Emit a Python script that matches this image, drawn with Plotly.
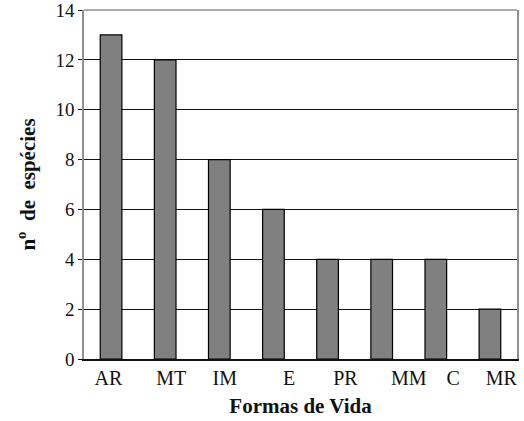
import plotly.graph_objects as go

categories = ["AR", "MT", "IM", "E", "PR", "MM", "C", "MR"]
species_counts = [13, 12, 8, 6, 4, 4, 4, 2]
y_ticks = [0, 2, 4, 6, 8, 10, 12, 14]

# layout: horizontal nudges of the category labels (as printed in the source figure)
label_nudge = [-0.05, 0.11, 0.10, 0.29, 0.33, 0.50, 0.32, 0.21]

xpos = list(range(len(categories)))
serif = "Liberation Serif, Times New Roman, serif"
nb = "\u00a0"

fig = go.Figure(
    go.Bar(
        x=xpos,
        y=species_counts,
        width=0.4,
        marker=dict(color="#808080", line=dict(color="#000000", width=1.2)),
    )
)

fig.update_layout(
    width=524,
    height=421,
    autosize=False,
    margin=dict(l=84, r=7, t=10, b=62, autoexpand=False),
    paper_bgcolor="white",
    plot_bgcolor="white",
    showlegend=False,
    font=dict(family=serif, color="#111111", size=17),
    xaxis=dict(
        range=[-0.5, len(categories) - 0.5],
        tickvals=[i + d for i, d in zip(xpos, label_nudge)],
        ticktext=categories,
        ticks="",
        showgrid=False,
        zeroline=False,
        showline=True,
        linecolor="#111111",
        linewidth=1.5,
        automargin=False,
        ticklabeloverflow="allow",
        tickfont=dict(family=serif, size=20, color="#111111"),
        title=dict(text="<b>Formas de Vida</b>", font=dict(family=serif, size=21, color="#111111"), standoff=11),
    ),
    yaxis=dict(
        range=[0, 14],
        tickvals=y_ticks,
        ticks="outside",
        ticklen=4,
        tickwidth=1.2,
        tickcolor="#111111",
        showgrid=True,
        gridcolor="#111111",
        gridwidth=1.2,
        zeroline=False,
        showline=True,
        mirror=True,
        linecolor="#909090",
        linewidth=1.5,
        automargin=False,
        ticklabeloverflow="allow",
        tickfont=dict(family=serif, size=19, color="#111111"),
        title=dict(text=f"<b>n<sup>o</sup>{nb}{nb}de{nb}{nb}espécies</b>", font=dict(family=serif, size=21, color="#111111"), standoff=14),
    ),
    shapes=[
        dict(type="line", xref="paper", yref="paper", x0=0, x1=1, y0=1, y1=1,
             line=dict(color="#909090", width=1.5), layer="above"),
    ],
)

fig.write_html(
    "out.html",
    config={"displayModeBar": False},
    post_script="document.body.style.margin='0';document.body.style.padding='0';",
)
